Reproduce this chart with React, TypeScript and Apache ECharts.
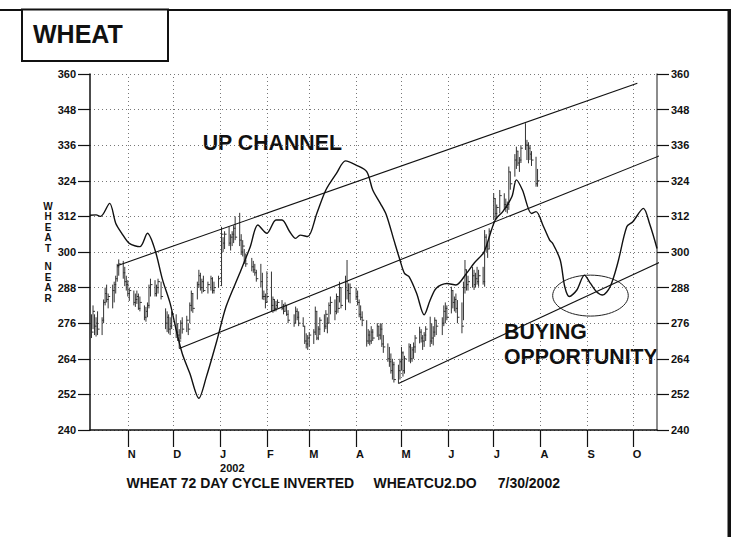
import React, { useEffect, useRef } from "react";
import * as echarts from "echarts";

// ---------- DATA ----------
const barDates = [
  "2001-10-08","2001-10-09","2001-10-10","2001-10-11","2001-10-12","2001-10-15","2001-10-16","2001-10-17","2001-10-18","2001-10-19",
  "2001-10-22","2001-10-23","2001-10-24","2001-10-25","2001-10-26","2001-10-29","2001-10-30","2001-10-31","2001-11-01","2001-11-02",
  "2001-11-05","2001-11-06","2001-11-07","2001-11-08","2001-11-09","2001-11-12","2001-11-13","2001-11-14","2001-11-15","2001-11-16",
  "2001-11-19","2001-11-20","2001-11-21","2001-11-23","2001-11-26","2001-11-27","2001-11-28","2001-11-29","2001-11-30","2001-12-03",
  "2001-12-04","2001-12-05","2001-12-06","2001-12-07","2001-12-10","2001-12-11","2001-12-12","2001-12-13","2001-12-14","2001-12-17",
  "2001-12-18","2001-12-19","2001-12-20","2001-12-21","2001-12-24","2001-12-26","2001-12-27","2001-12-28","2001-12-31","2002-01-02",
  "2002-01-03","2002-01-04","2002-01-07","2002-01-08","2002-01-09","2002-01-10","2002-01-11","2002-01-14","2002-01-15","2002-01-16",
  "2002-01-17","2002-01-18","2002-01-22","2002-01-23","2002-01-24","2002-01-25","2002-01-28","2002-01-29","2002-01-30","2002-01-31",
  "2002-02-01","2002-02-04","2002-02-05","2002-02-06","2002-02-07","2002-02-08","2002-02-11","2002-02-12","2002-02-13","2002-02-14",
  "2002-02-15","2002-02-19","2002-02-20","2002-02-21","2002-02-22","2002-02-25","2002-02-26","2002-02-27","2002-02-28","2002-03-01",
  "2002-03-04","2002-03-05","2002-03-06","2002-03-07","2002-03-08","2002-03-11","2002-03-12","2002-03-13","2002-03-14","2002-03-15",
  "2002-03-18","2002-03-19","2002-03-20","2002-03-21","2002-03-22","2002-03-25","2002-03-26","2002-03-27","2002-03-28","2002-04-01",
  "2002-04-02","2002-04-03","2002-04-04","2002-04-05","2002-04-08","2002-04-09","2002-04-10","2002-04-11","2002-04-12","2002-04-15",
  "2002-04-16","2002-04-17","2002-04-18","2002-04-19","2002-04-22","2002-04-23","2002-04-24","2002-04-25","2002-04-26","2002-04-29",
  "2002-04-30","2002-05-01","2002-05-02","2002-05-03","2002-05-06","2002-05-07","2002-05-08","2002-05-09","2002-05-10","2002-05-13",
  "2002-05-14","2002-05-15","2002-05-16","2002-05-17","2002-05-20","2002-05-21","2002-05-22","2002-05-23","2002-05-24","2002-05-28",
  "2002-05-29","2002-05-30","2002-05-31","2002-06-03","2002-06-04","2002-06-05","2002-06-06","2002-06-07","2002-06-10","2002-06-11",
  "2002-06-12","2002-06-13","2002-06-14","2002-06-17","2002-06-18","2002-06-19","2002-06-20","2002-06-21","2002-06-24","2002-06-25",
  "2002-06-26","2002-06-27","2002-06-28","2002-07-01","2002-07-02","2002-07-03","2002-07-05","2002-07-08","2002-07-09","2002-07-10",
  "2002-07-11","2002-07-12","2002-07-15","2002-07-16","2002-07-17","2002-07-18","2002-07-19","2002-07-22","2002-07-23","2002-07-24",
  "2002-07-25","2002-07-26","2002-07-29","2002-07-30"
];
const barHigh = [
  279,282,279,278,280,278,284,288,289,286,
  289,290,292,296,297.5,297,295,292,290.5,288,
  287,286,287,286,285,282,281.5,283,289,291,
  290.5,289,291,290,281,280,279,278,280,279,
  276,274,277,278,278.5,276,283,287,286,290,
  294,293,291,292,290,292,291.5,290,292,308.5,
  305,307,308.5,306,307,309,312,313.2,306,304,
  301,299.5,298,297,296,294,296,293,287,286,
  293.5,293.4,285,284,283.5,284,283.8,282.5,283,282,
  280.4,279,281.6,281,280,278,275,272.6,272,273,
  274,281.6,280,275,278,279,280.4,278,283,285,
  284,286,285,290,288,292,297.3,289.4,289.4,288,
  287,284,282,280,277,274,273.5,275,274,276,
  275,276,275.9,272,269.2,268,265.8,264,263,262,
  264,268,266.5,265,269.2,269,268,269.5,272,274.8,
  274,272,273,275,278.2,276,275,278,277,278,
  282,283,282,288.3,287,285,286,283.8,283,290,
  297.3,294,292,295,294,293,295,294,295,307.4,
  306,303,308,319.8,318,316,320.9,319.8,318,317,
  328.8,327,333,335.5,334,332,336,343.4,337.8,337,
  336,334,332.1,328
];
const barLow = [
  271,274,272,271.5,272,272,276,282,283,281,
  281,283,286,290,292,291,288.5,287,285,283.5,
  282,281.5,282.5,280.5,280,277,276.5,278,281,285,
  285,285,286,284,274,273,272.5,272,274,271,
  270,267.5,270.5,272.5,273,272,276,280,279.5,284,
  288,287,286,286.5,286,287,286,286,288,288.5,
  300,301,302,300.5,302,303,304,302,299,298.5,
  296,295,293.5,293,292,290,288,284,283.8,281,
  283,280,279.5,280,280,281,280.4,279,280,278.5,
  276,274.8,276,277,275,274.8,269,267.5,267,268,
  269,272,270.3,270.3,272,273,274,272.6,276,279,
  277,279,279.5,283,281,280.4,284,283,282.7,283.8,
  282,278,277,275,268.1,269,268.5,269,270,271.4,
  270.3,270.5,268,266,263,261.3,259,257,256,255.7,
  257,260,258,259,263,262.5,263,264,266,269.2,
  269.5,267,268,270,268,269,268.5,271.4,272,272,
  275,276,277,279.3,281,280,279.5,276,272.6,277,
  286,287,287,288,287.2,288,289,288.3,289,288.3,
  300,298,301,310.8,311,311,313,314.2,313.5,313,
  314.2,321,325.4,328,329,327,330,334.4,331,329.9,
  331,329,322,322
];
const barClose = [
  273,280,275,276,274,277,283,286,284,285,
  287,289,291,295,296,293,290,289,286,287,
  283,284,285,281,283,278,280,282,288,289,
  286,288,290,285,276,278,274,275,279,273,
  272,270,276,274,277,274,282,286,281,289,
  292,288,290,287,289,291,287,288,291,306,
  303,306,303,305,306,308,305,304,300,302,
  297,296,295,294,293,291,290,285,285,283,
  285,282,284,281,282,283,281,280,282,279,
  277,276,280,278,276,275,270,269,271,272,
  273,280,271,274,277,275,279,276,282,283,
  280,285,281,288,282,290,287,286,288,285,
  283,279,278,277,270,272,270,273,271,275,
  272,274,269,268,264,263,260,262,257,260,
  263,266,260,264,268,264,267,268,271,273,
  271,270,272,274,270,271,273,277,275,276,
  280,281,278,287,283,284,281,278,275,288,
  294,289,290,292,289,291,290,292,290,305,
  302,301,307,318,313,315,319,316,315,316,
  327,323,331,334,330,331,335,336,336,335,
  333,331,323,324
];

const cycleDates = [
  "2001-10-07","2001-10-11","2001-10-14","2001-10-20","2001-10-24","2001-10-28","2001-11-02","2001-11-09","2001-11-14","2001-11-19",
  "2001-11-24","2001-11-29","2001-12-03","2001-12-07","2001-12-12","2001-12-18","2001-12-23","2001-12-30","2002-01-05","2002-01-14",
  "2002-01-21","2002-01-26","2002-02-01","2002-02-07","2002-02-11","2002-02-16","2002-02-20","2002-02-23","2002-02-28","2002-03-06",
  "2002-03-12","2002-03-19","2002-03-25","2002-04-01","2002-04-08","2002-04-12","2002-04-17","2002-04-21","2002-04-26","2002-04-30",
  "2002-05-03","2002-05-06","2002-05-11","2002-05-16","2002-05-20","2002-05-24","2002-05-31","2002-06-06","2002-06-13","2002-06-18",
  "2002-06-24","2002-06-26","2002-07-02","2002-07-07","2002-07-13","2002-07-16","2002-07-20","2002-07-26","2002-07-29","2002-08-03",
  "2002-08-07","2002-08-09","2002-08-14","2002-08-17","2002-08-20","2002-08-25","2002-08-30","2002-09-03","2002-09-07","2002-09-11",
  "2002-09-16","2002-09-21","2002-09-27","2002-10-01","2002-10-08","2002-10-12","2002-10-17"
];
const cycleValues = [
  312.4,312.5,312.0,316.4,309.7,306.3,302.9,301.8,306.3,300.7,
  290.6,282.7,273.7,265.8,259.1,250.7,258.0,270.3,281.6,292.8,
  301.8,309.1,306.3,310.8,310.8,306.9,304.6,305.7,305.2,313.0,
  320.9,326.5,330.7,329.3,327.1,320.9,316.4,312.5,304.0,297.3,
  292.8,291.7,286.1,278.8,283.8,287.8,289.4,288.9,292.8,296.2,
  299.5,301.8,310.8,313.6,318.6,324.3,320.9,313.0,313.6,308.5,
  304.0,302.9,297.3,288.3,285.0,287.2,292.2,289.4,286.6,285.5,
  288.3,296.2,308.5,310.2,314.7,309.7,301.2
];

const upperChannelDates = ["2001-10-25", "2002-10-04"];
const upperChannelValues = [295.4, 356.9];
const middleChannelDates = ["2001-12-05", "2002-10-20"];
const middleChannelValues = [267.5, 332.7];
const lowerChannelDates = ["2002-04-29", "2002-10-31"];
const lowerChannelValues = [255.7, 299.4];

const ellipseCenterDate = "2002-09-03";
const ellipseCenterValue = 285.3;
const ellipseRadiusDays = 25;
const ellipseRadiusValue = 6.9;

const monthTickDates = [
  "2001-11-01","2001-12-01","2002-01-01","2002-02-01","2002-03-01","2002-04-01",
  "2002-05-01","2002-06-01","2002-07-01","2002-08-01","2002-09-01","2002-10-01"
];
const monthTickLabels = ["N","D","J\n2002","F","M","A","M","J","J","A","S","O"];

const xMinDate = "2001-10-07";
const xMaxDate = "2002-10-17";
const yMin = 240;
const yMax = 360;
const yStep = 12;

const titleText = "WHEAT";
const yAxisNameTop = "W\nH\nE\nA\nT";
const yAxisNameBottom = "N\nE\nA\nR";
const note1 = "UP CHANNEL";
const note2a = "BUYING";
const note2b = "OPPORTUNITY";
const caption1 = "WHEAT 72 DAY CYCLE INVERTED";
const caption2 = "WHEATCU2.DO";
const caption3 = "7/30/2002";

// ---------- helpers ----------
const ts = (s: string) => {
  const [y, m, d] = s.split("-").map(Number);
  return new Date(y, m - 1, d).getTime();
};
const DAY = 86400000;
const FONT = '"Liberation Sans", Arial, Helvetica, sans-serif';
const GRID_LINE = { type: [1, 3], color: "#777", width: 1 };

export default function App() {
  const ref = useRef<HTMLDivElement>(null);

  useEffect(() => {
    if (!ref.current) return;
    const chart = echarts.init(ref.current, null, { renderer: "svg" });

    const tickTs = monthTickDates.map(ts);
    const barData = barDates.map((d, i) => [ts(d), barLow[i], barHigh[i], barClose[i]]);
    const cycleData = cycleDates.map((d, i) => [ts(d), cycleValues[i]]);
    const lineData = (ds: string[], vs: number[]) => ds.map((d, i) => [ts(d), vs[i]]);

    const yAxisCommon = {
      type: "value",
      min: yMin,
      max: yMax,
      interval: yStep,
      axisTick: { show: true, inside: false, length: 12, lineStyle: { color: "#111", width: 1.2 } },
      axisLabel: { color: "#111", fontWeight: "bold", fontSize: 11, fontFamily: FONT, margin: 14 },
    };

    const textEl = (text: string, x: number, y: number, size: number, extra: any = {}) => ({
      type: "text",
      x,
      y,
      silent: true,
      style: {
        text,
        fill: "#111",
        font: `bold ${size}px ${FONT}`,
        align: "left",
        verticalAlign: "middle",
        ...extra,
      },
    });

    chart.setOption({
      animation: false,
      backgroundColor: "#fff",
      textStyle: { fontFamily: FONT },
      grid: { left: 90, right: 74, top: 74, bottom: 107, containLabel: false },
      xAxis: {
        type: "value",
        min: ts(xMinDate),
        max: ts(xMaxDate),
        scale: true,
        axisLine: { show: true, onZero: false, lineStyle: { color: "#111", width: 1.5 } },
        axisTick: { show: true, length: 17, customValues: tickTs, lineStyle: { color: "#111", width: 1.2 } },
        axisLabel: {
          customValues: tickTs,
          formatter: (v: number) => {
            const i = tickTs.indexOf(v);
            return i >= 0 ? monthTickLabels[i] : "";
          },
          align: "left",
          margin: 17,
          lineHeight: 14,
          color: "#111",
          fontWeight: "bold",
          fontSize: 11,
          fontFamily: FONT,
        },
        splitLine: { show: false },
      },
      yAxis: [
        {
          ...yAxisCommon,
          position: "left",
          axisLine: { show: true, lineStyle: { color: "#111", width: 1.5 } },
          splitLine: { show: true, lineStyle: GRID_LINE },
        },
        {
          ...yAxisCommon,
          position: "right",
          axisLine: { show: true, lineStyle: { color: "#666", width: 1.5 } },
          splitLine: { show: false },
        },
      ],
      series: [
        {
          type: "custom",
          name: "bars",
          coordinateSystem: "cartesian2d",
          encode: { x: 0, y: [1, 2, 3] },
          data: barData,
          renderItem: (params: any, api: any) => {
            const x = api.value(0);
            const lo = api.coord([x, api.value(1)]);
            const hi = api.coord([x, api.value(2)]);
            const c = api.coord([x, api.value(3)]);
            return {
              type: "group",
              children: [
                { type: "line", shape: { x1: lo[0], y1: lo[1], x2: hi[0], y2: hi[1] }, style: { stroke: "#333", lineWidth: 1 } },
                { type: "line", shape: { x1: c[0], y1: c[1], x2: c[0] + 2, y2: c[1] }, style: { stroke: "#333", lineWidth: 1 } },
              ],
            };
          },
          markLine: {
            silent: true,
            symbol: ["none", "none"],
            label: { show: false },
            lineStyle: GRID_LINE,
            z: 1,
            data: tickTs.map((t) => ({ xAxis: t })),
          },
        },
        {
          type: "line",
          name: "cycle",
          data: cycleData,
          showSymbol: false,
          smooth: 0.3,
          lineStyle: { color: "#111", width: 1.4 },
          z: 3,
        },
        {
          type: "line",
          data: lineData(upperChannelDates, upperChannelValues),
          showSymbol: false,
          clip: false,
          lineStyle: { color: "#111", width: 1.1 },
        },
        {
          type: "line",
          data: lineData(middleChannelDates, middleChannelValues),
          showSymbol: false,
          clip: false,
          lineStyle: { color: "#111", width: 1.1 },
        },
        {
          type: "line",
          data: lineData(lowerChannelDates, lowerChannelValues),
          showSymbol: false,
          clip: false,
          lineStyle: { color: "#111", width: 1.1 },
        },
        {
          type: "custom",
          coordinateSystem: "cartesian2d",
          data: [[ts(ellipseCenterDate), ellipseCenterValue]],
          clip: false,
          renderItem: (params: any, api: any) => {
            const cx = api.value(0);
            const cy = api.value(1);
            const c = api.coord([cx, cy]);
            const e = api.coord([cx + ellipseRadiusDays * DAY, cy + ellipseRadiusValue]);
            return {
              type: "ellipse",
              shape: { cx: c[0], cy: c[1], rx: Math.abs(e[0] - c[0]), ry: Math.abs(c[1] - e[1]) },
              style: { fill: "none", stroke: "#222", lineWidth: 1 },
            };
          },
        },
      ],
      graphic: [
        { type: "rect", silent: true, shape: { x: 0, y: 9, width: 731, height: 2 }, style: { fill: "#111" } },
        { type: "rect", silent: true, shape: { x: 727.5, y: 9, width: 3.5, height: 528 }, style: { fill: "#111" } },
        { type: "rect", silent: true, shape: { x: 22, y: 9.5, width: 146, height: 51.5 }, style: { fill: "#fff", stroke: "#111", lineWidth: 2 } },
        textEl(titleText, 33, 34, 25),
        textEl(yAxisNameTop, 48, 201, 10, { align: "center", verticalAlign: "top", lineHeight: 10.5 }),
        textEl(yAxisNameBottom, 48, 261.5, 10, { align: "center", verticalAlign: "top", lineHeight: 10.5 }),
        textEl(note1, 202.7, 143.3, 21.3),
        textEl(note2a, 504, 332, 21.3),
        textEl(note2b, 504, 356.7, 21.3),
        textEl(caption1, 126.5, 483, 14),
        textEl(caption2, 373.5, 483, 14),
        textEl(caption3, 497.7, 483, 14),
      ],
    });

    return () => chart.dispose();
  }, []);

  return (
    <div
      ref={ref}
      style={{ position: "absolute", left: 0, top: 0, width: "731px", height: "537px", background: "#fff" }}
    />
  );
}
